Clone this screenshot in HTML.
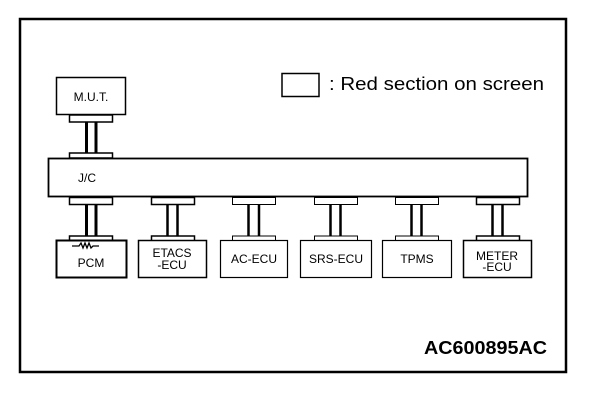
<!DOCTYPE html>
<html><head><meta charset="utf-8"><style>
html,body{margin:0;padding:0;background:#fff;width:608px;height:400px;overflow:hidden}
svg{display:block}
text{font-family:"Liberation Sans",Arial,sans-serif;fill:#000}
</style></head><body>
<svg width="608" height="400" viewBox="0 0 608 400">
<rect x="20" y="19" width="546" height="353" fill="none" stroke="#000" stroke-width="2.5"/>
<!-- legend -->
<rect x="282" y="73.5" width="37" height="23" fill="none" stroke="#000" stroke-width="1.5"/>
<text x="329" y="90" font-size="18" textLength="215" lengthAdjust="spacingAndGlyphs">: Red section on screen</text>
<!-- MUT -->
<rect x="56.5" y="77.5" width="69" height="37" fill="#fff" stroke="#000" stroke-width="1.5"/>
<text x="91" y="101" font-size="12" text-anchor="middle">M.U.T.</text>
<rect x="69.5" y="115" width="43" height="7" fill="#fff" stroke="#000" stroke-width="1.5"/>
<line x1="86.5" y1="122" x2="86.5" y2="153" stroke="#000" stroke-width="3"/>
<line x1="96" y1="122" x2="96" y2="153" stroke="#000" stroke-width="3"/>
<rect x="69.5" y="153" width="43" height="5" fill="#fff" stroke="#000" stroke-width="1.5"/>
<!-- J/C -->
<rect x="48.5" y="158.5" width="479" height="38" fill="#fff" stroke="#000" stroke-width="1.8"/>
<text x="78" y="182" font-size="12">J/C</text>
<g stroke="#000" fill="#fff">
<rect x="69.5" y="197.5" width="43" height="7" stroke-width="1.5"/>
<line x1="86.5" y1="204" x2="86.5" y2="236" stroke-width="3"/><line x1="96" y1="204" x2="96" y2="236" stroke-width="3"/>
<rect x="69.5" y="236" width="43" height="5" stroke-width="1.5"/>
<rect x="151.5" y="197.5" width="43" height="7" stroke-width="1.5"/>
<line x1="167.5" y1="204" x2="167.5" y2="236" stroke-width="2.5"/><line x1="177.5" y1="204" x2="177.5" y2="236" stroke-width="2.5"/>
<rect x="151.5" y="236" width="43" height="5" stroke-width="1.5"/>
<rect x="232.5" y="197.5" width="43" height="7" stroke-width="1"/>
<line x1="248.5" y1="204" x2="248.5" y2="236" stroke-width="2.5"/><line x1="259" y1="204" x2="259" y2="236" stroke-width="2.5"/>
<rect x="232.5" y="236" width="43" height="5" stroke-width="1"/>
<rect x="314.5" y="197.5" width="43" height="7" stroke-width="1"/>
<line x1="330.5" y1="204" x2="330.5" y2="236" stroke-width="2.5"/><line x1="340.5" y1="204" x2="340.5" y2="236" stroke-width="2.5"/>
<rect x="314.5" y="236" width="43" height="5" stroke-width="1"/>
<rect x="395.5" y="197.5" width="43" height="7" stroke-width="1"/>
<line x1="411.5" y1="204" x2="411.5" y2="236" stroke-width="2.5"/><line x1="421.5" y1="204" x2="421.5" y2="236" stroke-width="2.5"/>
<rect x="395.5" y="236" width="43" height="5" stroke-width="1"/>
<rect x="476.5" y="197.5" width="43" height="7" stroke-width="1.5"/>
<line x1="492.5" y1="204" x2="492.5" y2="236" stroke-width="2.5"/><line x1="502.5" y1="204" x2="502.5" y2="236" stroke-width="2.5"/>
<rect x="476.5" y="236" width="43" height="5" stroke-width="1.5"/>
</g>
<g fill="#fff" stroke="#000">
<rect x="56.5" y="240.5" width="70" height="37" stroke-width="2"/>
<rect x="138.5" y="240.5" width="68" height="37" stroke-width="1.5"/>
<rect x="220.5" y="240.5" width="67" height="37" stroke-width="1.2"/>
<rect x="300.5" y="240.5" width="71" height="37" stroke-width="1.2"/>
<rect x="382.5" y="240.5" width="69" height="37" stroke-width="1.2"/>
<rect x="463.5" y="240.5" width="68" height="37" stroke-width="1.5"/>
</g>
<polyline points="72,246 79,246 81,243 83,248 85,243 87,248 89,243 91,248 93,246 99,246" fill="none" stroke="#000" stroke-width="1.3"/>
<g font-size="12" text-anchor="middle">
<text x="91" y="267">PCM</text>
<text x="172" y="257">ETACS</text><text x="172" y="269">-ECU</text>
<text x="254" y="263">AC-ECU</text>
<text x="336" y="263">SRS-ECU</text>
<text x="417" y="263">TPMS</text>
<text x="497" y="260">METER</text><text x="497" y="271">-ECU</text>
</g>
<text x="424" y="354" font-size="18" font-weight="bold" textLength="123" lengthAdjust="spacingAndGlyphs">AC600895AC</text>
</svg>
</body></html>
